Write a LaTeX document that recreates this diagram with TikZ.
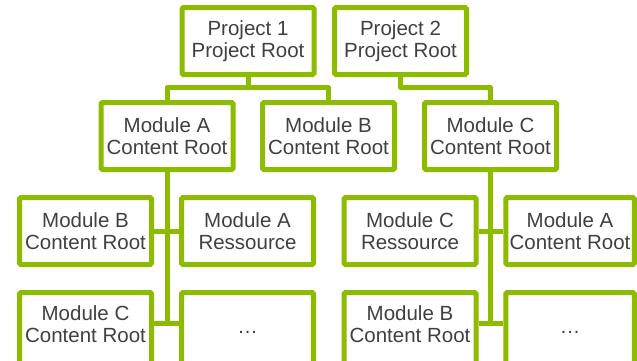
\documentclass[tikz,border=0pt]{standalone}
\usepackage{fontspec}
\setmainfont{Liberation Sans}
\definecolor{leaf}{HTML}{8CBB00}
\definecolor{ink}{HTML}{404040}
% invisible strut that deepens the last line, lifting the text in a taller box
\newcommand{\bottompad}{\rule[-9pt]{0pt}{0pt}}
% full line height, so a lone ellipsis sits where a word would
\newcommand{\linestrut}{\rule[-4.3pt]{0pt}{22.8pt}}
\tikzset{
  x=1pt, y=-1pt,
  unit/.style={draw=leaf, line width=5pt, fill=white, rectangle, rounded corners=1.5pt,
    minimum width=132pt, minimum height=67pt, inner sep=0pt, align=center,
    text=ink, font=\fontsize{20.5}{22}\selectfont},
  lowunit/.style={unit, minimum height=73pt},
  link/.style={draw=leaf, line width=5pt, line join=round}
}
\begin{document}
\begin{tikzpicture}
\useasboundingbox (0,0) rectangle (637,360);
\clip (0,0) rectangle (637,360);

% projects
\node[unit] (p1) at (248,41) {Project 1\\Project Root};
\node[unit] (p2) at (400.5,41) {Project 2\\Project Root};

% content roots of the projects
\node[unit] (ma) at (167,136) {Module A\\Content Root};
\node[unit] (mb) at (328.5,136) {Module B\\Content Root};
\node[unit] (mc) at (490.5,136) {Module C\\Content Root};

% children of module A
\node[unit] (ab) at (85.5,231) {Module B\\Content Root};
\node[unit] (ar) at (247.5,231) {Module A\\Ressource};
\node[lowunit] (ac) at (85.5,329) {Module C\\Content Root\bottompad};
\node[lowunit] (ax) at (247.5,329) {\linestrut…\bottompad};

% children of module C
\node[unit] (cr) at (410,231) {Module C\\Ressource};
\node[unit, minimum width=128.5pt] (ca) at (570,231) {Module A\\Content Root};
\node[lowunit] (cb) at (410,329) {Module B\\Content Root\bottompad};
\node[lowunit, minimum width=128.5pt] (cx) at (570,329) {\linestrut…\bottompad};

% junctions
\coordinate (j1) at (248,87.5);
\coordinate (j2) at (400.5,87.5);
\coordinate (ta) at (167,323);
\coordinate (tc) at (490.5,323);

% project links
\draw[link] (p1.south) -- (j1);
\draw[link] (ma.north) |- (j1) -| (mb.north);
\draw[link] (p2.south) -- (j2) -| (mc.north);

% module A tree
\draw[link] (ma.south) -- (ta);
\draw[link] (ab.east) -- (ar.west);
\draw[link] (ac.east |- ta) -- (ax.west |- ta);

% module C tree
\draw[link] (mc.south) -- (tc);
\draw[link] (cr.east) -- (ca.west);
\draw[link] (cb.east |- tc) -- (cx.west |- tc);
\end{tikzpicture}
\end{document}
